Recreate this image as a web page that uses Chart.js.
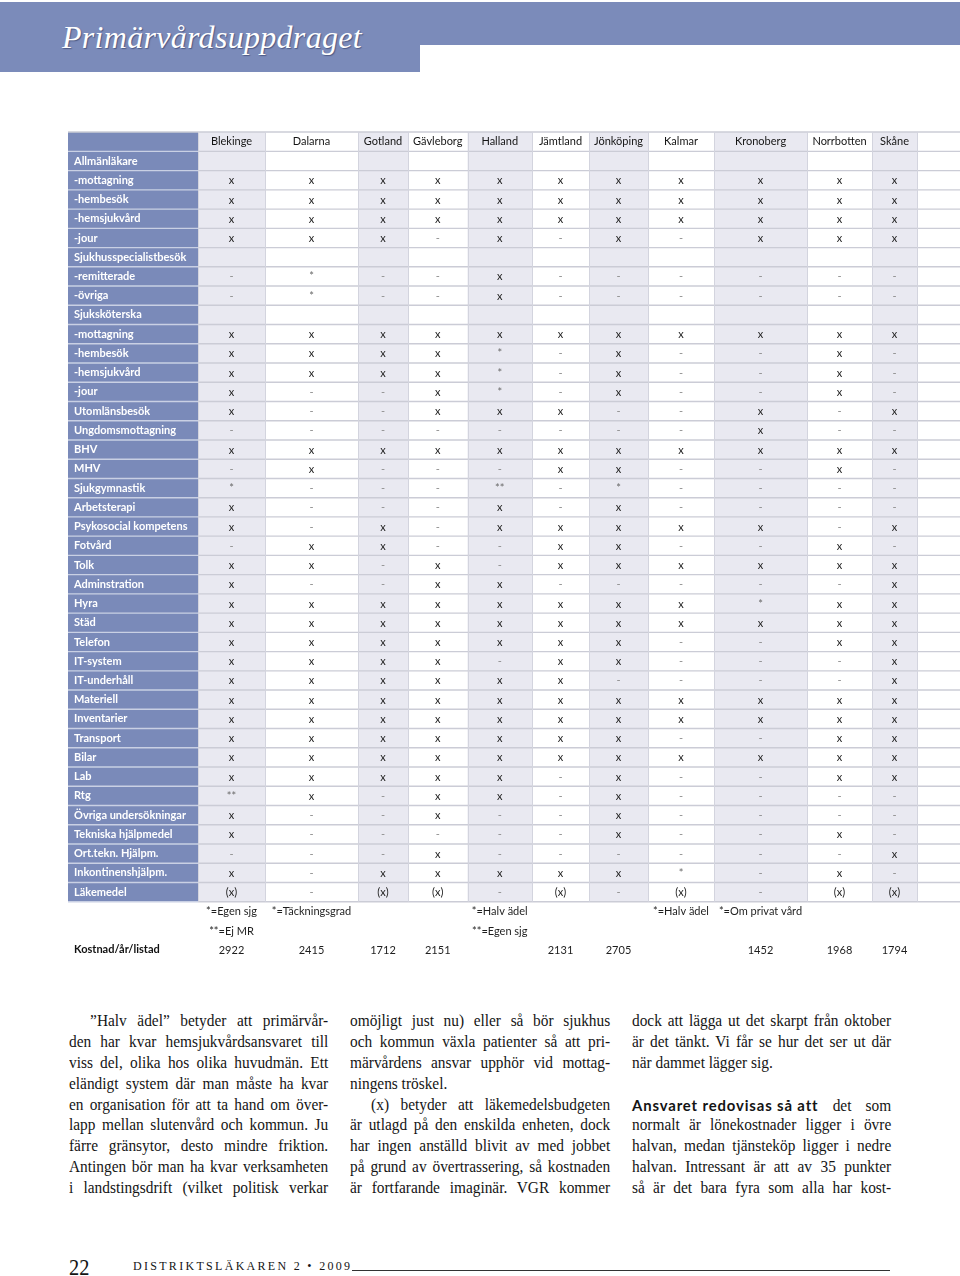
<!DOCTYPE html>
<html lang="sv">
<head>
<meta charset="utf-8">
<title>Primärvårdsuppdraget</title>
<script src="https://cdn.jsdelivr.net/npm/chart.js@4.4.1/dist/chart.umd.min.js"></script>
<style>
  html, body { margin: 0; padding: 0; background: #fff; }
  body { width: 960px; height: 1276px; position: relative; overflow: hidden; font-family: 'Liberation Serif', serif; color: #141414; }
  .band-top { position: absolute; left: 0; top: 2px; width: 960px; height: 43px; background: #7b8bba; }
  .band-left { position: absolute; left: 0; top: 2px; width: 420px; height: 70px; background: #7b8bba; }
  .title { position: absolute; left: 62px; top: 19px; font: italic 32px 'Liberation Serif', serif; color: #fff; letter-spacing: 0.3px; text-shadow: 1px 1px 1px rgba(40, 50, 90, .55); }
  #wrap { position: absolute; left: 0; top: 120px; width: 960px; height: 846px; }
  .col { position: absolute; top: 1011px; width: 270px; font-size: 16px; line-height: 20.9px; transform: scaleX(0.96); transform-origin: left top; }
  .col div { text-align: justify; text-align-last: justify; height: 20.9px; }
  .col div.end { text-align-last: left; }
  .col div.ind { text-indent: 22px; }
  .col b { font-family: Lato, sans-serif; font-size: 15.5px; letter-spacing: 0.9px; display: inline-block; }
  .pageno { position: absolute; left: 69px; top: 1254px; font-size: 24px; line-height: 26px; transform: scaleX(0.85); transform-origin: left; }
  .mag { position: absolute; left: 133px; top: 1259px; font-size: 12px; letter-spacing: 2.3px; line-height: 14px; }
  .rule { position: absolute; left: 352px; top: 1270px; width: 538px; height: 1px; background: #333; }
</style>
</head>
<body>
<div class="band-top"></div>
<div class="band-left"></div>
<div class="title">Primärvårdsuppdraget</div>

<div id="wrap"><canvas id="tableChart"></canvas></div>

<div class="col" style="left:69px">
  <div class="ind">”Halv ädel” betyder att primärvår-</div>
  <div>den har kvar hemsjukvårdsansvaret till</div>
  <div>viss del, olika hos olika huvudmän. Ett</div>
  <div>eländigt system där man måste ha kvar</div>
  <div>en organisation för att ta hand om över-</div>
  <div>lapp mellan slutenvård och kommun. Ju</div>
  <div>färre gränsytor, desto mindre friktion.</div>
  <div>Antingen bör man ha kvar verksamheten</div>
  <div>i landstingsdrift (vilket politisk verkar</div>
</div>
<div class="col" style="left:350px; width:271px">
  <div>omöjligt just nu) eller så bör sjukhus</div>
  <div>och kommun växla patienter så att pri-</div>
  <div>märvårdens ansvar upphör vid mottag-</div>
  <div class="end">ningens tröskel.</div>
  <div class="ind">(x) betyder att läkemedelsbudgeten</div>
  <div>är utlagd på den enskilda enheten, dock</div>
  <div>har ingen anställd blivit av med jobbet</div>
  <div>på grund av övertrassering, så kostnaden</div>
  <div>är fortfarande imaginär. VGR kommer</div>
</div>
<div class="col" style="left:632px">
  <div>dock att lägga ut det skarpt från oktober</div>
  <div>är det tänkt. Vi får se hur det ser ut där</div>
  <div class="end">när dammet lägger sig.</div>
  <div class="end"></div>
  <div><b>Ansvaret redovisas så att</b> det som</div>
  <div>normalt är lönekostnader ligger i övre</div>
  <div>halvan, medan tjänsteköp ligger i nedre</div>
  <div>halvan. Intressant är att av 35 punkter</div>
  <div>så är det bara fyra som alla har kost-</div>
</div>

<div class="pageno">22</div>
<div class="mag">DISTRIKTSLÄKAREN 2 • 2009</div>
<div class="rule"></div>

<script>
const regions = ['Blekinge', 'Dalarna', 'Gotland', 'Gävleborg', 'Halland', 'Jämtland',
  'Jönköping', 'Kalmar', 'Kronoberg', 'Norrbotten', 'Skåne'];

const rowLabels = ['Allmänläkare', '-mottagning', '-hembesök', '-hemsjukvård', '-jour',
  'Sjukhusspecialistbesök', '-remitterade', '-övriga', 'Sjuksköterska', '-mottagning',
  '-hembesök', '-hemsjukvård', '-jour', 'Utomlänsbesök', 'Ungdomsmottagning', 'BHV', 'MHV',
  'Sjukgymnastik', 'Arbetsterapi', 'Psykosocial kompetens', 'Fotvård', 'Tolk', 'Adminstration',
  'Hyra', 'Städ', 'Telefon', 'IT-system', 'IT-underhåll', 'Materiell', 'Inventarier',
  'Transport', 'Bilar', 'Lab', 'Rtg', 'Övriga undersökningar', 'Tekniska hjälpmedel',
  'Ort.tekn. Hjälpm.', 'Inkontinenshjälpm.', 'Läkemedel'];

// one entry per row above, '' = empty cell
const blekinge   = ['', 'x', 'x', 'x', 'x', '', '-', '-', '', 'x', 'x', 'x', 'x', 'x', '-', 'x', '-', '*', 'x', 'x', '-', 'x', 'x', 'x', 'x', 'x', 'x', 'x', 'x', 'x', 'x', 'x', 'x', '**', 'x', 'x', '-', 'x', '(x)'];
const dalarna    = ['', 'x', 'x', 'x', 'x', '', '*', '*', '', 'x', 'x', 'x', '-', '-', '-', 'x', 'x', '-', '-', '-', 'x', 'x', '-', 'x', 'x', 'x', 'x', 'x', 'x', 'x', 'x', 'x', 'x', 'x', '-', '-', '-', '-', '-'];
const gotland    = ['', 'x', 'x', 'x', 'x', '', '-', '-', '', 'x', 'x', 'x', '-', '-', '-', 'x', '-', '-', '-', 'x', 'x', '-', '-', 'x', 'x', 'x', 'x', 'x', 'x', 'x', 'x', 'x', 'x', '-', '-', '-', '-', 'x', '(x)'];
const gavleborg  = ['', 'x', 'x', 'x', '-', '', '-', '-', '', 'x', 'x', 'x', 'x', 'x', '-', 'x', '-', '-', '-', '-', '-', 'x', 'x', 'x', 'x', 'x', 'x', 'x', 'x', 'x', 'x', 'x', 'x', 'x', 'x', '-', 'x', 'x', '(x)'];
const halland    = ['', 'x', 'x', 'x', 'x', '', 'x', 'x', '', 'x', '*', '*', '*', 'x', '-', 'x', '-', '**', 'x', 'x', '-', '-', 'x', 'x', 'x', 'x', '-', 'x', 'x', 'x', 'x', 'x', 'x', 'x', '-', '-', '-', 'x', '-'];
const jamtland   = ['', 'x', 'x', 'x', '-', '', '-', '-', '', 'x', '-', '-', '-', 'x', '-', 'x', 'x', '-', '-', 'x', 'x', 'x', '-', 'x', 'x', 'x', 'x', 'x', 'x', 'x', 'x', 'x', '-', '-', '-', '-', '-', 'x', '(x)'];
const jonkoping  = ['', 'x', 'x', 'x', 'x', '', '-', '-', '', 'x', 'x', 'x', 'x', '-', '-', 'x', 'x', '*', 'x', 'x', 'x', 'x', '-', 'x', 'x', 'x', 'x', '-', 'x', 'x', 'x', 'x', 'x', 'x', 'x', 'x', '-', 'x', '-'];
const kalmar     = ['', 'x', 'x', 'x', '-', '', '-', '-', '', 'x', '-', '-', '-', '-', '-', 'x', '-', '-', '-', 'x', '-', 'x', '-', 'x', 'x', '-', '-', '-', 'x', 'x', '-', 'x', '-', '-', '-', '-', '-', '*', '(x)'];
const kronoberg  = ['', 'x', 'x', 'x', 'x', '', '-', '-', '', 'x', '-', '-', '-', 'x', 'x', 'x', '-', '-', '-', 'x', '-', 'x', '-', '*', 'x', '-', '-', '-', 'x', 'x', '-', 'x', '-', '-', '-', '-', '-', '-', '-'];
const norrbotten = ['', 'x', 'x', 'x', 'x', '', '-', '-', '', 'x', 'x', 'x', 'x', '-', '-', 'x', 'x', '-', '-', '-', 'x', 'x', '-', 'x', 'x', 'x', '-', '-', 'x', 'x', 'x', 'x', 'x', '-', '-', 'x', '-', 'x', '(x)'];
const skane      = ['', 'x', 'x', 'x', 'x', '', '-', '-', '', 'x', '-', '-', '-', 'x', '-', 'x', '-', '-', '-', 'x', '-', 'x', 'x', 'x', 'x', 'x', 'x', 'x', 'x', 'x', 'x', 'x', 'x', '-', '-', '-', 'x', '-', '(x)'];

const noteStar       = ['*=Egen sjg', '*=Täckningsgrad', '', '', '*=Halv ädel', '', '', '*=Halv ädel', '*=Om privat vård', '', ''];
const noteDoubleStar = ['**=Ej MR', '', '', '', '**=Egen sjg', '', '', '', '', '', ''];
const costLabel = 'Kostnad/år/listad';
const costs = [2922, 2415, 1712, 2151, null, 2131, 2705, null, 1452, 1968, 1794];

const columns = [blekinge, dalarna, gotland, gavleborg, halland, jamtland, jonkoping, kalmar, kronoberg, norrbotten, skane];

// layout: printed column widths (px), last one is the empty column at the page edge
const colWidths = [67, 93, 50, 59.5, 64.5, 57, 59, 66, 93, 65, 45, 43];
const colEdges = [0];
colWidths.forEach(w => colEdges.push(colEdges[colEdges.length - 1] + w));
const colCenters = colWidths.map((w, i) => colEdges[i] + w / 2);
const colTotal = colEdges[colEdges.length - 1];

const nRows = rowLabels.length;
const yLabels = [...rowLabels, '', '', costLabel];
const headerLabels = [...regions, ''];

const FONT = 'Lato, "Open Sans", sans-serif';
const BLUE = '#7a8ab9';
const SHADE = '#e9e9f1';

const datasets = regions.map((name, c) => {
  const pts = [];
  columns[c].forEach((v, r) => { if (v) pts.push({ x: colCenters[c], y: r, v: v }); });
  if (noteStar[c]) pts.push({ x: colCenters[c], y: nRows, v: noteStar[c], kind: 'note' });
  if (noteDoubleStar[c]) pts.push({ x: colCenters[c], y: nRows + 1, v: noteDoubleStar[c], kind: 'note' });
  if (costs[c] != null) pts.push({ x: colCenters[c], y: nRows + 2, v: String(costs[c]), kind: 'cost' });
  return { label: name, data: pts, pointRadius: 0, pointHoverRadius: 0 };
});

const tableBackground = {
  id: 'tableBackground',
  beforeDraw(chart) {
    const { ctx, chartArea } = chart;
    const xs = chart.scales.x, ys = chart.scales.y;
    const top = xs.top;
    const bottom = ys.getPixelForValue(nRows - 0.5);
    const labelLeft = ys.left - 6;
    ctx.save();
    // label column
    ctx.fillStyle = BLUE;
    ctx.fillRect(labelLeft, top, chartArea.left - labelLeft, bottom - top);
    // shaded region columns
    ctx.fillStyle = SHADE;
    for (let c = 0; c < regions.length; c += 2) {
      const x0 = xs.getPixelForValue(colEdges[c]);
      const x1 = xs.getPixelForValue(colEdges[c + 1]);
      ctx.fillRect(x0, top, x1 - x0, bottom - top);
    }
    // row separators
    ctx.lineWidth = 1.4;
    const lines = [top];
    for (let r = 0; r <= nRows; r++) lines.push(ys.getPixelForValue(r - 0.5));
    lines.forEach((y, i) => {
      ctx.strokeStyle = '#cbccd6';
      ctx.beginPath(); ctx.moveTo(chartArea.left, y); ctx.lineTo(chartArea.right, y); ctx.stroke();
      ctx.strokeStyle = i === 0 ? '#cbccd6' : '#c9d0e4';
      ctx.beginPath(); ctx.moveTo(labelLeft, y); ctx.lineTo(chartArea.left, y); ctx.stroke();
    });
    // column separators
    ctx.lineWidth = 1;
    ctx.strokeStyle = '#d3d4de';
    colEdges.slice(0, -1).forEach(v => {
      const x = Math.round(xs.getPixelForValue(v)) + 0.5;
      ctx.beginPath(); ctx.moveTo(x, top); ctx.lineTo(x, bottom); ctx.stroke();
    });
    ctx.restore();
  }
};

const cellText = {
  id: 'cellText',
  afterDatasetsDraw(chart) {
    const { ctx } = chart;
    ctx.save();
    ctx.textAlign = 'center';
    ctx.textBaseline = 'middle';
    ctx.font = '11px ' + FONT;
    chart.data.datasets.forEach((ds, i) => {
      chart.getDatasetMeta(i).data.forEach((el, j) => {
        const d = ds.data[j];
        if (d.kind) ctx.fillStyle = '#1e1e1e';
        else if (d.v === '-') ctx.fillStyle = '#8c8c8c';
        else if (d.v.startsWith('*')) ctx.fillStyle = '#6a6a6a';
        else ctx.fillStyle = '#222';
        ctx.fillText(d.v, el.x, el.y + 0.5);
      });
    });
    ctx.restore();
  }
};

new Chart(document.getElementById('tableChart'), {
  type: 'scatter',
  data: { datasets: datasets },
  options: {
    responsive: true,
    maintainAspectRatio: false,
    animation: false,
    events: [],
    layout: { padding: { left: 74, top: 12, right: 0, bottom: 0 } },
    plugins: { legend: { display: false }, tooltip: { enabled: false } },
    scales: {
      x: {
        type: 'linear',
        position: 'top',
        min: 0,
        max: colTotal,
        grid: { display: false, drawTicks: false },
        border: { display: false },
        afterBuildTicks: s => { s.ticks = colCenters.map(v => ({ value: v })); },
        afterFit: s => { s.height = 834 / 43; },
        ticks: {
          autoSkip: false, maxRotation: 0, minRotation: 0, padding: 3,
          color: '#151515',
          font: { family: FONT, size: 11 },
          callback: (v, i) => headerLabels[i]
        }
      },
      y: {
        type: 'linear',
        reverse: true,
        min: -0.5,
        max: yLabels.length - 0.5,
        grid: { display: false, drawTicks: false },
        border: { display: false },
        afterBuildTicks: s => { s.ticks = yLabels.map((_, i) => ({ value: i })); },
        afterFit: s => { s.width = 124; },
        ticks: {
          autoSkip: false, crossAlign: 'far', padding: 0,
          color: c => c.index < nRows ? '#ffffff' : '#111111',
          font: { family: FONT, size: 11, weight: 'bold' },
          callback: (v, i) => yLabels[i]
        }
      }
    }
  },
  plugins: [tableBackground, cellText]
});
</script>
</body>
</html>
